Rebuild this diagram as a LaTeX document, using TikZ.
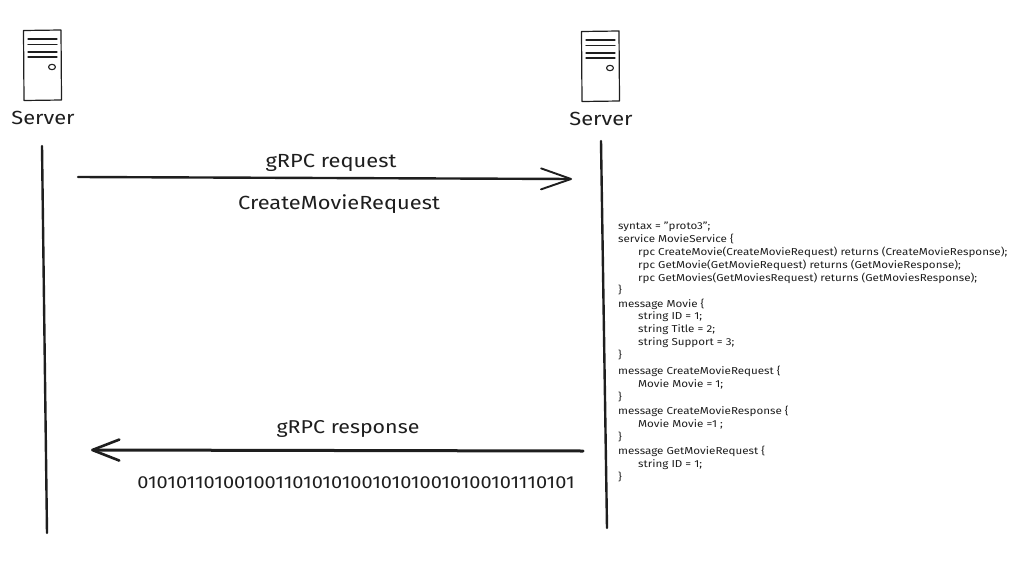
\documentclass[tikz,border=0pt]{standalone}
\usepackage{fontspec}
\setmainfont[FakeStretch=1.15]{Fira Sans}
\usetikzlibrary{arrows.meta}
\definecolor{ink}{HTML}{1E1E1E}
\tikzset{
  x=1pt,y=-1pt,
  rule/.style={draw=ink,line width=2.4pt,line cap=round},
  flow/.style={draw=ink,line width=2.4pt,line cap=round,-{Straight Barb[length=30pt,width=21pt,line width=1.9pt,round]}},
  flowheavy/.style={draw=ink,line width=3pt,line cap=round,-{Straight Barb[length=27pt,width=21pt,line width=2.6pt,round]}},
  icon/.style={draw=ink,line width=1.1pt,line cap=round,line join=round},
  title/.style={text=ink,font=\fontsize{19}{22}\selectfont,inner sep=0pt},
  label/.style={text=ink,font=\fontsize{19}{22}\selectfont,inner sep=0pt},
  bits/.style={text=ink,font=\fontsize{17.4}{20}\selectfont,inner sep=0pt},
  code/.style={text=ink,font=\fontsize{10.1}{12}\selectfont,inner sep=0pt,anchor=base west},
}
\begin{document}
\begin{tikzpicture}
\useasboundingbox (0,0) rectangle (1022,578);
% servers
\foreach \dx/\dy/\nm in {0/0/L,558/1/R}{
  \begin{scope}[shift={(\dx,\dy)}]
    \draw[icon,line width=1.2pt] (23.5,30.5) -- (61,30) -- (61.5,100) -- (24,100.5) -- cycle;
    \foreach \yy in {39,44.5,52,57}{\draw[icon] (28,\yy) -- (57,\yy);}
    \draw[icon] (52,67) ellipse (3.5 and 2.7);
  \end{scope}
}
\node[title] (serverL) at (43,118) {Server};
\node[title] (serverR) at (601,119) {Server};
% lifelines
\coordinate (lifeLtop) at (42,146);
\coordinate (lifeLend) at (47,533);
\coordinate (lifeRtop) at (601,141);
\coordinate (lifeRend) at (607,528);
\draw[rule] (lifeLtop) -- (lifeLend);
\draw[rule] (lifeRtop) -- (lifeRend);
% arrows
\coordinate (reqS) at (78,177);
\coordinate (reqE) at (572,179);
\coordinate (resS) at (583,451);
\coordinate (resE) at (91,450);
\draw[flow] (reqS) -- (reqE);
\draw[flowheavy] (resS) -- (resE);
\node[label] (reqlab) at (331,163) {gRPC request};
\node[label] (reqmsg) at (339,204) {CreateMovieRequest};
\node[label,font=\fontsize{18.6}{22}\selectfont] (reslab) at (348,429) {gRPC response};
\node[bits] (resbits) at (356,483) {010101101001001101010100101010010100101110101};
% code
\foreach \i/\xx/\yy/\txt in {
 1/618/229/{syntax = "proto3";},
 2/618/242/{service MovieService \{},
 3/638/255/{rpc CreateMovie(CreateMovieRequest) returns (CreateMovieResponse);},
 4/638/268/{rpc GetMovie(GetMovieRequest) returns (GetMovieResponse);},
 5/638/281/{rpc GetMovies(GetMoviesRequest) returns (GetMoviesResponse);},
 6/618/293/{\}},
 7/618/307/{message Movie \{},
 8/638/319/{string ID = 1;},
 9/638/332/{string Title = 2;},
 10/638/345/{string Support = 3;},
 11/618/358/{\}},
 12/618/374/{message CreateMovieRequest \{},
 13/638/387/{Movie Movie = 1;},
 14/618/400/{\}},
 15/618/414/{message CreateMovieResponse \{},
 16/638/427/{Movie Movie =1 ;},
 17/618/440/{\}},
 18/618/454/{message GetMovieRequest \{},
 19/638/467/{string ID = 1;},
 20/618/480/{\}}}{
  \node[code] (code\i) at (\xx,\yy) {\txt};
}
\end{tikzpicture}
\end{document}
